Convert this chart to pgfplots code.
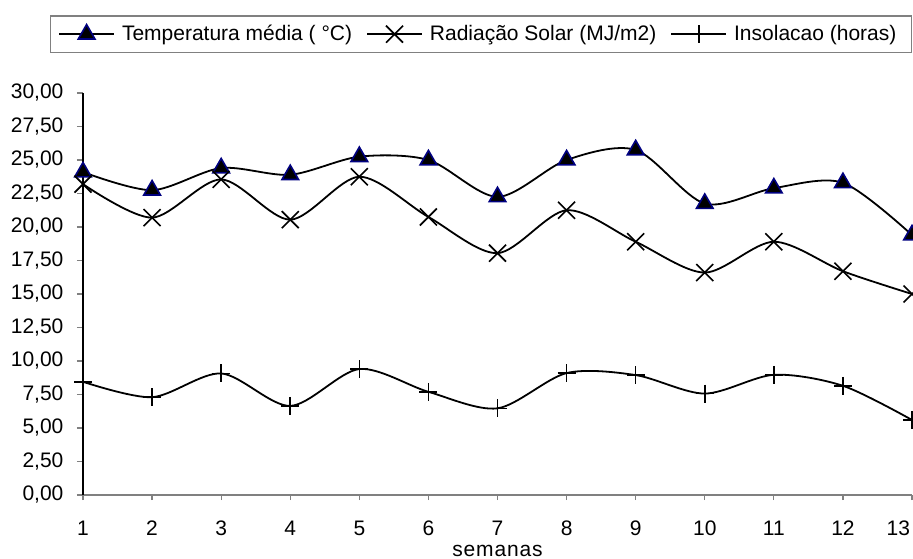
\documentclass[border=0pt]{standalone}
\usepackage{fontspec}
\setmainfont{Liberation Sans}
\usepackage{pgfplots}
\pgfplotsset{compat=1.18}
\definecolor{navyb}{RGB}{0,0,128}
\definecolor{axgray}{RGB}{128,128,128}
\begin{document}
\begin{tikzpicture}[font=\fontsize{10.5}{12.6}\selectfont]
\begin{axis}[
  name=ax,
  scale only axis, width=414.5pt, height=201pt,
  xmin=1, xmax=13, ymin=0, ymax=30,
  axis x line=bottom, axis y line=left,
  axis line style={-},
  x axis line style={draw=axgray, line width=0.7pt},
  y axis line style={draw=black, line width=0.6pt},
  xtick={1,...,12},
  extra x ticks={13},
  extra x tick style={xticklabel style={/tikz/anchor=north east, /tikz/xshift=2.5pt}},
  ytick={0,2.5,...,30},
  tick align=outside,
  xtick style={draw=axgray, line width=0.6pt},
  ytick style={draw=axgray, line width=0.6pt},
  xtick style={/pgfplots/major tick length=2.5pt},
  ytick style={/pgfplots/major tick length=3pt},
  /pgf/number format/assume math mode=true,
  yticklabel style={/tikz/xshift=-2pt, /pgf/number format/use comma, /pgf/number format/fixed, /pgf/number format/fixed zerofill, /pgf/number format/precision=2},
  xticklabel style={/tikz/yshift=-5pt, /pgf/number format/precision=0},
  xlabel={\addfontfeature{LetterSpace=4}semanas},
  xlabel style={at={(axis description cs:0.5,0)}, anchor=center, yshift=-28pt},
  legend columns=3,
  legend style={at={(1,1)}, anchor=south east, yshift=20pt, draw=axgray,
    line width=0.6pt, inner xsep=4pt, inner ysep=2.5pt,
    nodes={inner xsep=3.5pt},
    /tikz/every even column/.append style={column sep=3.5pt}},
  legend image code/.code={
    \draw[mark repeat=2, mark phase=2] plot coordinates {(0pt,0pt) (13.75pt,0pt) (27.5pt,0pt)};},
  legend cell align=left,
]
\addplot[black, line width=0.9pt, smooth, tension=0.5, mark=triangle*, mark size=4.8pt,
  mark options={fill=black, draw=navyb, line width=0.8pt}] coordinates {
(1,24.1) (2,22.75) (3,24.4) (4,23.9) (5,25.25) (6,25.0) (7,22.25) (8,25.0) (9,25.75) (10,21.75) (11,22.9) (12,23.3) (13,19.4)};
\addlegendentry{Temperatura média ( °C)}
\addplot[black, line width=0.9pt, smooth, tension=0.5, mark=x, mark size=6pt,
  mark options={line width=0.8pt}] coordinates {
(1,23.2) (2,20.7) (3,23.55) (4,20.55) (5,23.75) (6,20.75) (7,18.05) (8,21.25) (9,18.9) (10,16.6) (11,18.9) (12,16.7) (13,15.0)};
\addlegendentry{Radiação Solar (MJ/m2)}
\addplot[black, line width=0.9pt, smooth, tension=0.5, mark=+, mark size=4.5pt,
  mark options={line width=0.8pt}] coordinates {
(1,8.45) (2,7.3) (3,9.07) (4,6.65) (5,9.4) (6,7.7) (7,6.47) (8,9.1) (9,8.95) (10,7.57) (11,8.97) (12,8.15) (13,5.6)};
\addlegendentry{Insolacao (horas)}
\end{axis}
\pgfresetboundingbox
\path[use as bounding box] ([xshift=-41.5pt,yshift=-31.5pt]ax.south west) rectangle ([xshift=0.5pt,yshift=46.5pt]ax.north east);
\end{tikzpicture}
\end{document}
